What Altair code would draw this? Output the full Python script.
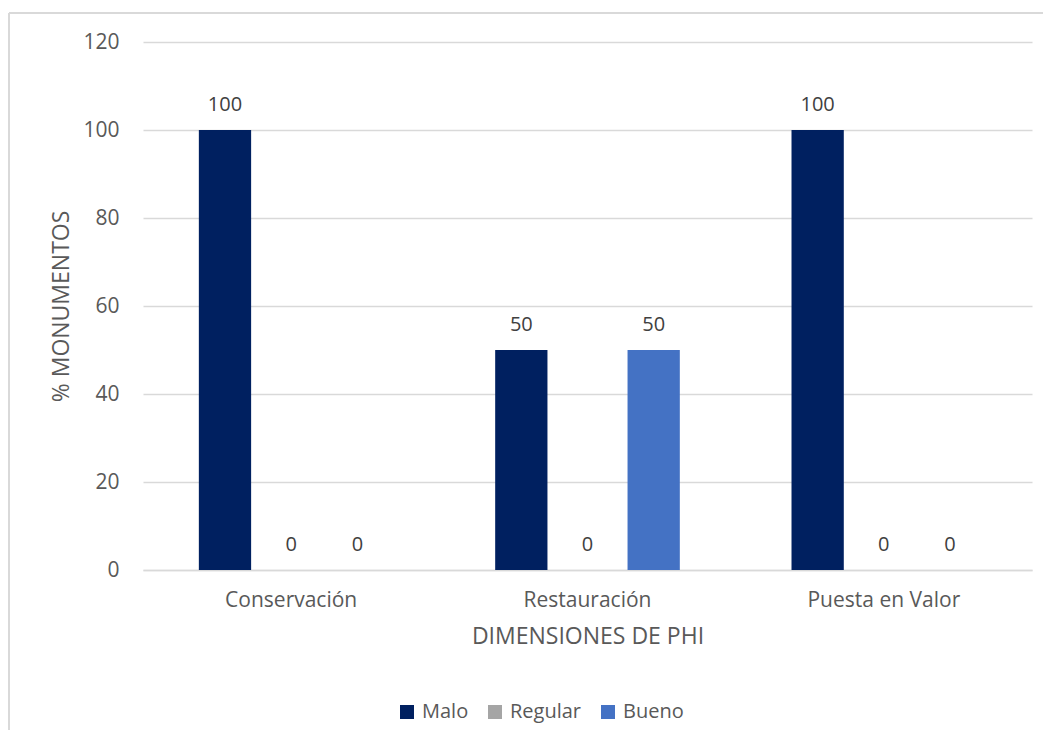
import altair as alt
import pandas as pd

categories = ["Conservación", "Restauración", "Puesta en Valor"]
series = ["Malo", "Regular", "Bueno"]
malo = [100, 50, 100]
regular = [0, 0, 0]
bueno = [0, 50, 0]
colors = ["#002060", "#A5A5A5", "#4472C4"]
y_ticks = [0, 20, 40, 60, 80, 100, 120]

rows = []
for i, c in enumerate(categories):
    for s, vals in zip(series, [malo, regular, bueno]):
        rows.append({"cat": c, "serie": s, "val": vals[i]})
df = pd.DataFrame(rows)

FONT = "Open Sans"
W, H = 889, 528

x = alt.X("cat:N", sort=categories, title="DIMENSIONES DE PHI",
          scale=alt.Scale(paddingInner=0.33, paddingOuter=0.165),
          axis=alt.Axis(labelAngle=0, labelFontSize=21, labelColor="#595959",
                        labelFont=FONT, labelPadding=19, ticks=False,
                        domainColor="#D9D9D9", domainWidth=1.5,
                        titleFont=FONT, titleFontSize=23, titleFontWeight="normal",
                        titleColor="#595959", titlePadding=15))
xo = alt.XOffset("serie:N", sort=series, scale=alt.Scale(paddingInner=0.21, paddingOuter=0.105))

base = alt.Chart(df)
bars = base.mark_bar().encode(
    x=x, xOffset=xo,
    y=alt.Y("val:Q", title="% MONUMENTOS",
            scale=alt.Scale(domain=[0, 120]),
            axis=alt.Axis(values=y_ticks, labelFontSize=21, labelColor="#595959",
                          labelFont=FONT, labelPadding=24, ticks=False, domain=False,
                          gridColor="#D9D9D9", gridWidth=1.5,
                          titleFont=FONT, titleFontSize=23, titleFontWeight="normal",
                          titleColor="#595959", titlePadding=9)),
    color=alt.Color("serie:N", sort=series,
                    scale=alt.Scale(domain=series, range=colors),
                    legend=alt.Legend(title=None, orient="none", direction="horizontal",
                                      legendX=254, legendY=660, symbolType="square",
                                      symbolSize=196, symbolStrokeWidth=0,
                                      labelFont=FONT, labelFontSize=20,
                                      labelColor="#595959", columnPadding=16,
                                      labelOffset=5)),
)
labels = base.mark_text(dy=-25, fontSize=20, font=FONT, color="#404040").encode(
    x=x, xOffset=xo, y="val:Q", text="val:Q")

top_line = alt.Chart(pd.DataFrame({"a": [0]})).mark_rule(color="#D9D9D9", strokeWidth=2).encode(
    x=alt.value(-134), x2=alt.value(920), y=alt.value(-29))
left_line = alt.Chart(pd.DataFrame({"a": [0]})).mark_rule(color="#D9D9D9", strokeWidth=2).encode(
    x=alt.value(-134), y=alt.value(-29), y2=alt.value(720))

chart = alt.layer(top_line, left_line, bars, labels).properties(
    width=W, height=H,
    autosize=alt.AutoSizeParams(type="none"),
    padding={"left": 135, "top": 34, "right": 11, "bottom": 160},
).configure_view(stroke=None)

chart.save("out.html", embed_options={"renderer": "svg", "actions": False})
